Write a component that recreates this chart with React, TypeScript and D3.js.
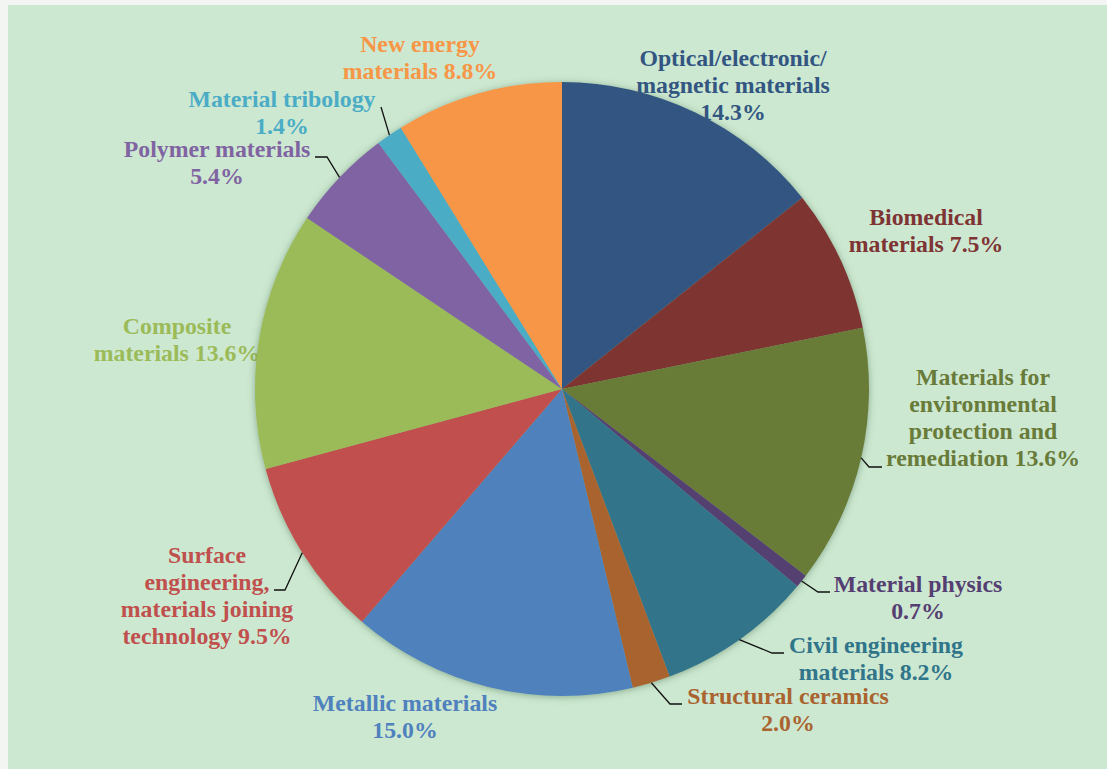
import * as d3 from 'd3';

const categories = [
  'Optical/electronic/magnetic materials',
  'Biomedical materials',
  'Materials for environmental protection and remediation',
  'Material physics',
  'Civil engineering materials',
  'Structural ceramics',
  'Metallic materials',
  'Surface engineering, materials joining technology',
  'Composite materials',
  'Polymer materials',
  'Material tribology',
  'New energy materials',
];

const shares = [14.3, 7.5, 13.6, 0.7, 8.2, 2.0, 15.0, 9.5, 13.6, 5.4, 1.4, 8.8];

const colors = [
  '#325681', '#7e3433', '#687b39', '#553f72', '#30758a', '#a9632f',
  '#4f81bd', '#c0504d', '#9bbb59', '#8064a2', '#4bacc6', '#f79646',
];

// label text, already broken into lines as in the original
const labelLines: string[][] = [
  ['Optical/electronic/', 'magnetic materials', '14.3%'],
  ['Biomedical', 'materials 7.5%'],
  ['Materials for', 'environmental', 'protection and', 'remediation 13.6%'],
  ['Material physics', '0.7%'],
  ['Civil engineering', 'materials 8.2%'],
  ['Structural ceramics', '2.0%'],
  ['Metallic materials', '15.0%'],
  ['Surface', 'engineering,', 'materials joining', 'technology 9.5%'],
  ['Composite', 'materials 13.6%'],
  ['Polymer materials', '5.4%'],
  ['Material tribology', '1.4%'],
  ['New energy', 'materials 8.8%'],
];

// label placement: centre x, first baseline, leader elbow [x, y, endX] or null
type Place = { x: number; y: number; leader: [number, number, number] | null; under?: boolean };
const placements: Place[] = [
  { x: 733, y: 66, leader: null },
  { x: 926, y: 225, leader: null },
  { x: 983, y: 385, leader: [869, 467, 882] },
  { x: 918, y: 592, leader: [818, 592, 830] },
  { x: 876, y: 653, leader: [772, 653, 784] },
  { x: 788, y: 704, leader: [670, 704, 682] },
  { x: 405, y: 711, leader: null },
  { x: 207, y: 563, leader: [285, 590, 274] },
  { x: 177, y: 334, leader: null, under: true },
  { x: 217, y: 157, leader: [327, 157, 315] },
  { x: 282, y: 107, leader: [381, 107, 381] },
  { x: 420, y: 52, leader: null },
];

const WIDTH = 1107;
const HEIGHT = 769;
const CX = 562;
const CY = 389;
const R = 307;
const LINE_H = 27;

export default function App() {
  const pie = d3
    .pie<number>()
    .sort(null)
    .value(d => d)(shares);

  const arc = d3.arc<d3.PieArcDatum<number>>().innerRadius(0).outerRadius(R);

  const edgePoint = (a: d3.PieArcDatum<number>): [number, number] => {
    const mid = (a.startAngle + a.endAngle) / 2;
    return [CX + R * Math.sin(mid), CY - R * Math.cos(mid)];
  };

  const renderLabel = (i: number) => {
    const p = placements[i];
    const lines = labelLines[i];
    const [sx, sy] = edgePoint(pie[i]);
    return (
      <g key={`label-${i}`}>
        {p.leader && (
          <polyline
            points={`${sx},${sy} ${p.leader[0]},${p.leader[1]} ${p.leader[2]},${p.leader[1]}`}
            fill="none"
            stroke="#111"
            strokeWidth={1.3}
          />
        )}
        <text
          x={p.x}
          y={p.y}
          textAnchor="middle"
          style={{ fontFamily: "'Liberation Serif', 'Times New Roman', serif", fontWeight: 700, fontSize: 23.8 }}
          fill={colors[i]}
        >
          {lines.map((l, j) => (
            <tspan key={j} x={p.x} y={p.y + j * LINE_H}>
              {l}
            </tspan>
          ))}
        </text>
      </g>
    );
  };

  return (
    <svg
      width={WIDTH}
      height={HEIGHT}
      viewBox={`0 0 ${WIDTH} ${HEIGHT}`}
      style={{ position: 'absolute', left: 0, top: 0, display: 'block' }}
      role="img"
      aria-label={categories.join(', ')}
    >
      <defs>
        <filter id="pie-shadow" x="-10%" y="-10%" width="120%" height="120%">
          <feDropShadow dx={0} dy={1} stdDeviation={3.5} floodColor="#3c6a45" floodOpacity={0.5} />
        </filter>
      </defs>
      <rect x={0} y={0} width={WIDTH} height={HEIGHT} fill="#f3f5f3" />
      <rect x={8} y={5} width={WIDTH - 8} height={HEIGHT - 5} fill="#cde8d1" />

      {placements.map((p, i) => (p.under ? renderLabel(i) : null))}

      <g transform={`translate(${CX},${CY})`} filter="url(#pie-shadow)">
        {pie.map((a, i) => (
          <path key={categories[i]} d={arc(a) ?? ''} fill={colors[i]} />
        ))}
      </g>

      {placements.map((p, i) => (p.under ? null : renderLabel(i)))}
    </svg>
  );
}
